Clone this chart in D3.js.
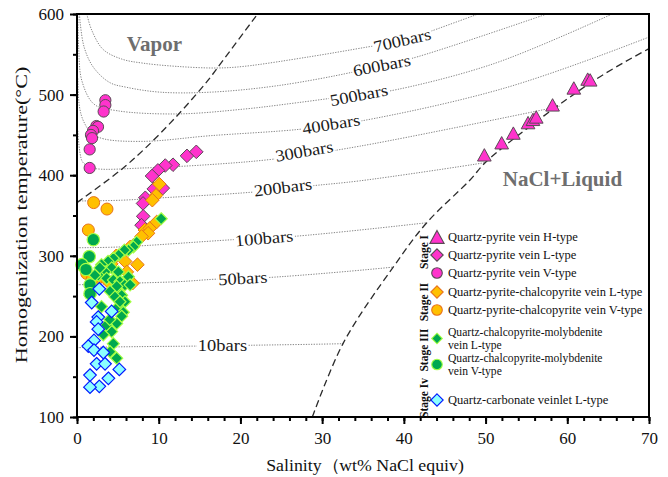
<!DOCTYPE html>
<html>
<head>
<meta charset="utf-8">
<script src="https://cdn.jsdelivr.net/npm/d3@7"></script>
<style>
  body { margin: 0; background: #fff; }
  svg { display: block; }
  text { font-family: "Liberation Serif", "Times New Roman", serif; }
</style>
</head>
<body>
<svg id="chart" width="668" height="477" font-family="Liberation Serif, Times New Roman, serif"></svg>
<script>
// ---- axis ticks ----
const xTickValues = [0, 10, 20, 30, 40, 50, 60, 70];
const yTickValues = [100, 200, 300, 400, 500, 600];

// ---- fluid inclusion data: [salinity wt% NaCl equiv, homogenization T (°C)] ----
const stage1H = [[49.85,424],[51.97,439],[53.4,451],[55.2,464],[55.8,468],[56.2,471],[58.2,486],[60.8,507],[62.5,518],[62.8,517]];
const stage1L = [[13.46,424],[14.6,429],[11.75,413],[10.8,412],[9.9,406],[9.18,399],[10.5,384],[9.4,383],[8.36,372],[8.08,365],[8.1,349],[7.9,338]];
const stage1V = [[3.47,493],[3.47,487],[3.26,479],[2.37,461],[2.57,460],[1.96,455],[1.71,450],[1.84,446],[1.55,432],[1.55,409]];
const stage2L = [[10.07,389],[9.67,375],[9.22,369],[9.75,342],[8.3,332],[8.9,334],[8.7,328],[7.9,324],[6.9,313],[6.5,311],[7.4,289],[5.9,293],[6.1,280],[3.0,281],[4.2,290],[5.5,262],[2.5,270],[6.8,266],[3.8,268],[4.8,300]];
const stage2V = [[2.04,366],[3.67,358],[1.39,332],[1.2,278],[1.9,272]];
const stage3L = [[10.3,346],[7.3,317],[6.9,311],[6.3,307],[5.8,307],[5.1,301],[4.45,297],[3.8,293],[3.0,289],[4.25,285],[5.06,280],[3.43,280],[2.6,276],[3.63,272],[4.45,270],[5.26,268],[5.87,264],[6.3,274],[6.5,264],[4.86,258],[5.47,251],[5.87,243],[5.06,237],[5.67,230],[2.2,276],[4.86,262],[4.04,256],[4.65,249],[5.26,243],[5.47,225],[4.86,216],[4.24,206],[4.45,191],[4.04,181],[4.86,173],[3.22,202],[1.59,251],[3.6,214],[4.0,221],[3.0,237],[2.8,285]];
const stage3V = [[2.0,320],[1.5,299],[0.6,289],[1.6,264],[1.6,253],[1.1,283]];
const stage4L = [[2.73,259],[1.8,242],[4.24,231],[2.6,224],[2.4,218],[2.6,209],[2.08,195],[1.38,188],[2.08,183],[3.22,180],[2.4,166],[3.43,166],[5.18,159],[1.59,152],[3.84,148],[2.73,138],[1.59,137]];

// ---- phase boundaries ----
const criticalCurve = [[0,366],[5.3,406],[8.2,432],[12,471],[15.9,516],[17.1,532],[22.1,600]];
const haliteCurve = [[28.8,100],[32.6,192],[38.7,286],[42.8,341],[48.1,394],[50.2,418],[63.2,517],[70,557]];

// ---- isobars (bars) ----
const isobarNames = ["700bars","600bars","500bars","400bars","300bars","200bars","100bars","50bars","10bars"];
const iso700 = [[1.2,600],[1.8,580],[3.2,556],[5.5,544],[8.1,539],[12.2,535],[17.1,533],[20.4,535],[28.5,547],[35.5,559],[40,567],[43.4,579],[49.1,600]];
const iso600 = [[0.3,600],[0.4,588],[0.9,558],[2.0,534],[4.0,515],[6.1,509],[10.2,503],[16.3,503],[24.5,511],[33.8,528],[37.3,537],[41,545],[57.5,600]];
const iso500 = [[0.1,600],[0.2,559],[0.6,517],[2.1,488],[4.9,480],[12.2,476],[20.4,482],[27,490],[34.5,500],[38,504],[50.9,538],[65.5,600]];
const iso400 = [[0.1,520],[0.3,485],[0.8,467],[1.8,452],[3.3,445],[8.2,442],[16.3,449],[27.3,457],[34.6,467],[52.3,508],[69.9,571],[72,580]];
const iso300 = [[0.1,455],[0.6,418],[1.2,412],[2.4,408],[8.2,409],[16,413],[24.1,420],[34.6,436],[66,500]];
const iso200 = [[0,368],[5.5,369],[10.5,372],[21.5,379],[28.9,387],[34.6,393],[50.2,416],[53,421]];
const iso100 = [[0,310],[5.3,311],[19.1,320],[26.4,324],[42.8,341],[46,345]];
const iso50  = [[0,264],[6.5,266],[12.6,268],[17,271],[23.3,273],[38.7,286],[41,289]];
const iso10  = [[0,186],[4.9,187],[14.7,188],[21.2,189],[32.6,191],[35,192]];
// label anchor on each isobar [salinity, T] and its tilt in degrees
const isobarLabelAt = [[39.8,567.7],[37.3,536.7],[34.5,499.6],[31.1,463.6],[27.8,430.1],[25.2,385.3],[22.9,322.1],[20.3,272.5],[17.8,189.4]];
const isobarLabelTilt = [-13,-11,-11,-9,-10,-7,-5,-3,0];

// ---- legend ----
const stageNames = ["Stage I","Stage II","Stage III","Stage Iv"];
const legendLabels = [
  ["Quartz-pyrite vein H-type"],
  ["Quartz-pyrite vein L-type"],
  ["Quartz-pyrite vein V-type"],
  ["Quartz-pyrite-chalcopyrite vein L-type"],
  ["Quartz-pyrite-chalcopyrite vein V-type"],
  ["Quartz-chalcopyrite-molybdenite","vein L-type"],
  ["Quartz-chalcopyrite-molybdenite","vein V-type"],
  ["Quartz-carbonate veinlet L-type"]
];

// ================= drawing =================
const FONT = '"Liberation Serif","Times New Roman",serif';
const svg = d3.select("#chart");
const x = d3.scaleLinear().domain([0, 70]).range([77, 649]);
const y = d3.scaleLinear().domain([100, 600]).range([417, 14]);

const palette = {
  pink:   { fill: "#FF33CC", stroke: "#5a4a55" },
  orange: { fill: "#FFC000", stroke: "#E8731A" },
  green:  { fill: "#00A84F", stroke: "#A6FF45" },
  blue:   { fill: "#8CFFFF", stroke: "#0018FF" }
};

const defs = svg.append("defs");
defs.append("clipPath").attr("id", "plotClip")
  .append("rect").attr("x", 77).attr("y", 14).attr("width", 572).attr("height", 403);

// region above/left of the halite saturation curve
const haliteRegion = [[0,100]].concat(haliteCurve, [[70,600],[0,600]]);
defs.append("clipPath").attr("id", "isoClip")
  .append("path")
  .attr("d", d3.line().x(d => x(d[0])).y(d => y(d[1])).curve(d3.curveLinear)(haliteRegion) + "Z");

const smooth = d3.line().x(d => x(d[0])).y(d => y(d[1])).curve(d3.curveCatmullRom.alpha(0.5));

// isobars
const isoG = svg.append("g").attr("clip-path", "url(#plotClip)")
  .append("g").attr("clip-path", "url(#isoClip)");
[iso700, iso600, iso500, iso400, iso300, iso200, iso100, iso50, iso10].forEach(line => {
  isoG.append("path").attr("d", smooth(line))
    .attr("fill", "none").attr("stroke", "#858585").attr("stroke-width", 1)
    .attr("stroke-dasharray", "1.3,1.3");
});

// isobar labels with a white gap in the line
const labG = svg.append("g");
isobarNames.forEach((name, i) => {
  const [s, t] = isobarLabelAt[i];
  const g = labG.append("g")
    .attr("transform", `translate(${x(s)},${y(t)}) rotate(${isobarLabelTilt[i]}) scale(1.12,1)`);
  const bg = g.append("rect").attr("fill", "#fff");
  const tx = g.append("text").text(name)
    .attr("text-anchor", "middle").attr("dy", "0.36em")
    .attr("font-family", FONT).attr("font-size", 16.5).attr("fill", "#1a1a1a");
  const w = tx.node().getComputedTextLength();
  bg.attr("x", -w / 2 - 1).attr("y", -6).attr("width", w + 2).attr("height", 12);
});

// phase boundaries
const bounds = svg.append("g").attr("clip-path", "url(#plotClip)");
[criticalCurve, haliteCurve].forEach(c => {
  bounds.append("path").attr("d", smooth(c))
    .attr("fill", "none").attr("stroke", "#2b2b2b").attr("stroke-width", 1.3)
    .attr("stroke-dasharray", "7,4");
});

// field names
svg.append("text").text("Vapor").attr("x", x(6.1)).attr("y", y(554))
  .attr("font-family", FONT).attr("font-size", 21).attr("font-weight", "bold").attr("fill", "#6e6e6e");
svg.append("text").text("NaCl+Liquid").attr("x", x(52.1)).attr("y", y(386))
  .attr("font-family", FONT).attr("font-size", 21).attr("font-weight", "bold").attr("fill", "#6e6e6e");

// markers
const diamondPath = r => `M0,${-r}L${r},0L0,${r}L${-r},0Z`;
const trianglePath = r => `M0,${-r}L${r * 0.95},${r * 0.72}L${-r * 0.95},${r * 0.72}Z`;
function drawMarkers(data, shape, col, size, sw) {
  const g = svg.append("g");
  data.forEach(d => {
    const cx = x(d[0]), cy = y(d[1]);
    let m;
    if (shape === "circle") m = g.append("circle").attr("cx", cx).attr("cy", cy).attr("r", size);
    else if (shape === "diamond") m = g.append("path").attr("d", diamondPath(size)).attr("transform", `translate(${cx},${cy})`);
    else m = g.append("path").attr("d", trianglePath(size)).attr("transform", `translate(${cx},${cy})`);
    m.attr("fill", col.fill).attr("stroke", col.stroke).attr("stroke-width", sw);
  });
}
drawMarkers(stage1H, "triangle", palette.pink, 7.2, 1);
drawMarkers(stage1L, "diamond", palette.pink, 6.8, 1);
drawMarkers(stage1V, "circle", palette.pink, 5.6, 1);
drawMarkers(stage2L, "diamond", palette.orange, 6.8, 1);
drawMarkers(stage2V, "circle", palette.orange, 6, 1);
drawMarkers(stage3L, "diamond", palette.green, 6, 1.2);
drawMarkers(stage3V, "circle", palette.green, 6.2, 1.2);
drawMarkers(stage4L, "diamond", palette.blue, 6.3, 1.2);

// axes
const axisStyle = g => {
  g.attr("font-family", FONT);
  g.select(".domain").remove();
  g.selectAll("line").attr("stroke", "#000").attr("stroke-width", 2);
  g.selectAll("text").attr("font-size", 17).attr("fill", "#111").attr("font-family", FONT);
};
svg.append("g").attr("transform", "translate(0,417)")
  .call(d3.axisBottom(x).tickValues(d3.range(0, 71, 2)).tickSize(4).tickFormat(""))
  .call(axisStyle);
svg.append("g").attr("transform", "translate(0,417)")
  .call(d3.axisBottom(x).tickValues(xTickValues).tickSize(7).tickPadding(8).tickFormat(d3.format("d")))
  .call(axisStyle);
svg.append("g").attr("transform", "translate(77,0)")
  .call(d3.axisLeft(y).tickValues(d3.range(100, 601, 50)).tickSize(4).tickFormat(""))
  .call(axisStyle);
svg.append("g").attr("transform", "translate(77,0)")
  .call(d3.axisLeft(y).tickValues(yTickValues).tickSize(7).tickPadding(6).tickFormat(d3.format("d")))
  .call(axisStyle);

svg.append("rect").attr("x", 77).attr("y", 14).attr("width", 572).attr("height", 403)
  .attr("fill", "none").attr("stroke", "#000").attr("stroke-width", 2);

// axis titles
svg.append("text").text("Salinity（wt% NaCl equiv)")
  .attr("transform", "translate(365,471) scale(1.08,1)")
  .attr("text-anchor", "middle").attr("font-family", FONT).attr("font-size", 16.5).attr("fill", "#111");
svg.append("text").text("Homogenization temperature(°C)")
  .attr("transform", "translate(27,215) rotate(-90) scale(1.3,1)").attr("text-anchor", "middle")
  .attr("font-family", FONT).attr("font-size", 17).attr("fill", "#111");

// legend
const legendRowsY = [237, 255, 273, 292, 310, 338.5, 364.5, 400];
const legendShapes = ["triangle","diamond","circle","diamond","circle","diamond","circle","diamond"];
const legendColors = [palette.pink, palette.pink, palette.pink, palette.orange, palette.orange, palette.green, palette.green, palette.blue];
const lg = svg.append("g");
legendLabels.forEach((lines, i) => {
  const cy = legendRowsY[i];
  const col = legendColors[i];
  let m;
  if (legendShapes[i] === "circle") m = lg.append("circle").attr("cx", 437).attr("cy", cy).attr("r", 5.3);
  else if (legendShapes[i] === "diamond") m = lg.append("path").attr("d", diamondPath(i === 5 ? 5.3 : 6.2)).attr("transform", `translate(437,${cy})`);
  else m = lg.append("path").attr("d", trianglePath(7.5)).attr("transform", `translate(437,${cy + 1})`);
  m.attr("fill", col.fill).attr("stroke", col.stroke).attr("stroke-width", 1.1);
  // two-line entries use a slightly smaller size so the lines sit clear of each other
  const fs = lines.length > 1 ? 11.6 : 12.5;
  const lh = 13;
  const y0 = cy - (lines.length - 1) * lh / 2;
  lines.forEach((ln, k) => {
    lg.append("text").text(ln).attr("x", 448).attr("y", y0 + k * lh + 4)
      .attr("font-family", FONT).attr("font-size", fs).attr("fill", "#111");
  });
});
const stageCentersY = [252, 302, 350, 398];
stageNames.forEach((s, i) => {
  lg.append("text").text(s)
    .attr("transform", `translate(428,${stageCentersY[i]}) rotate(-90)`)
    .attr("text-anchor", "middle").attr("font-family", FONT)
    .attr("font-size", 11.5).attr("font-weight", "bold").attr("fill", "#111");
});
</script>
</body>
</html>
